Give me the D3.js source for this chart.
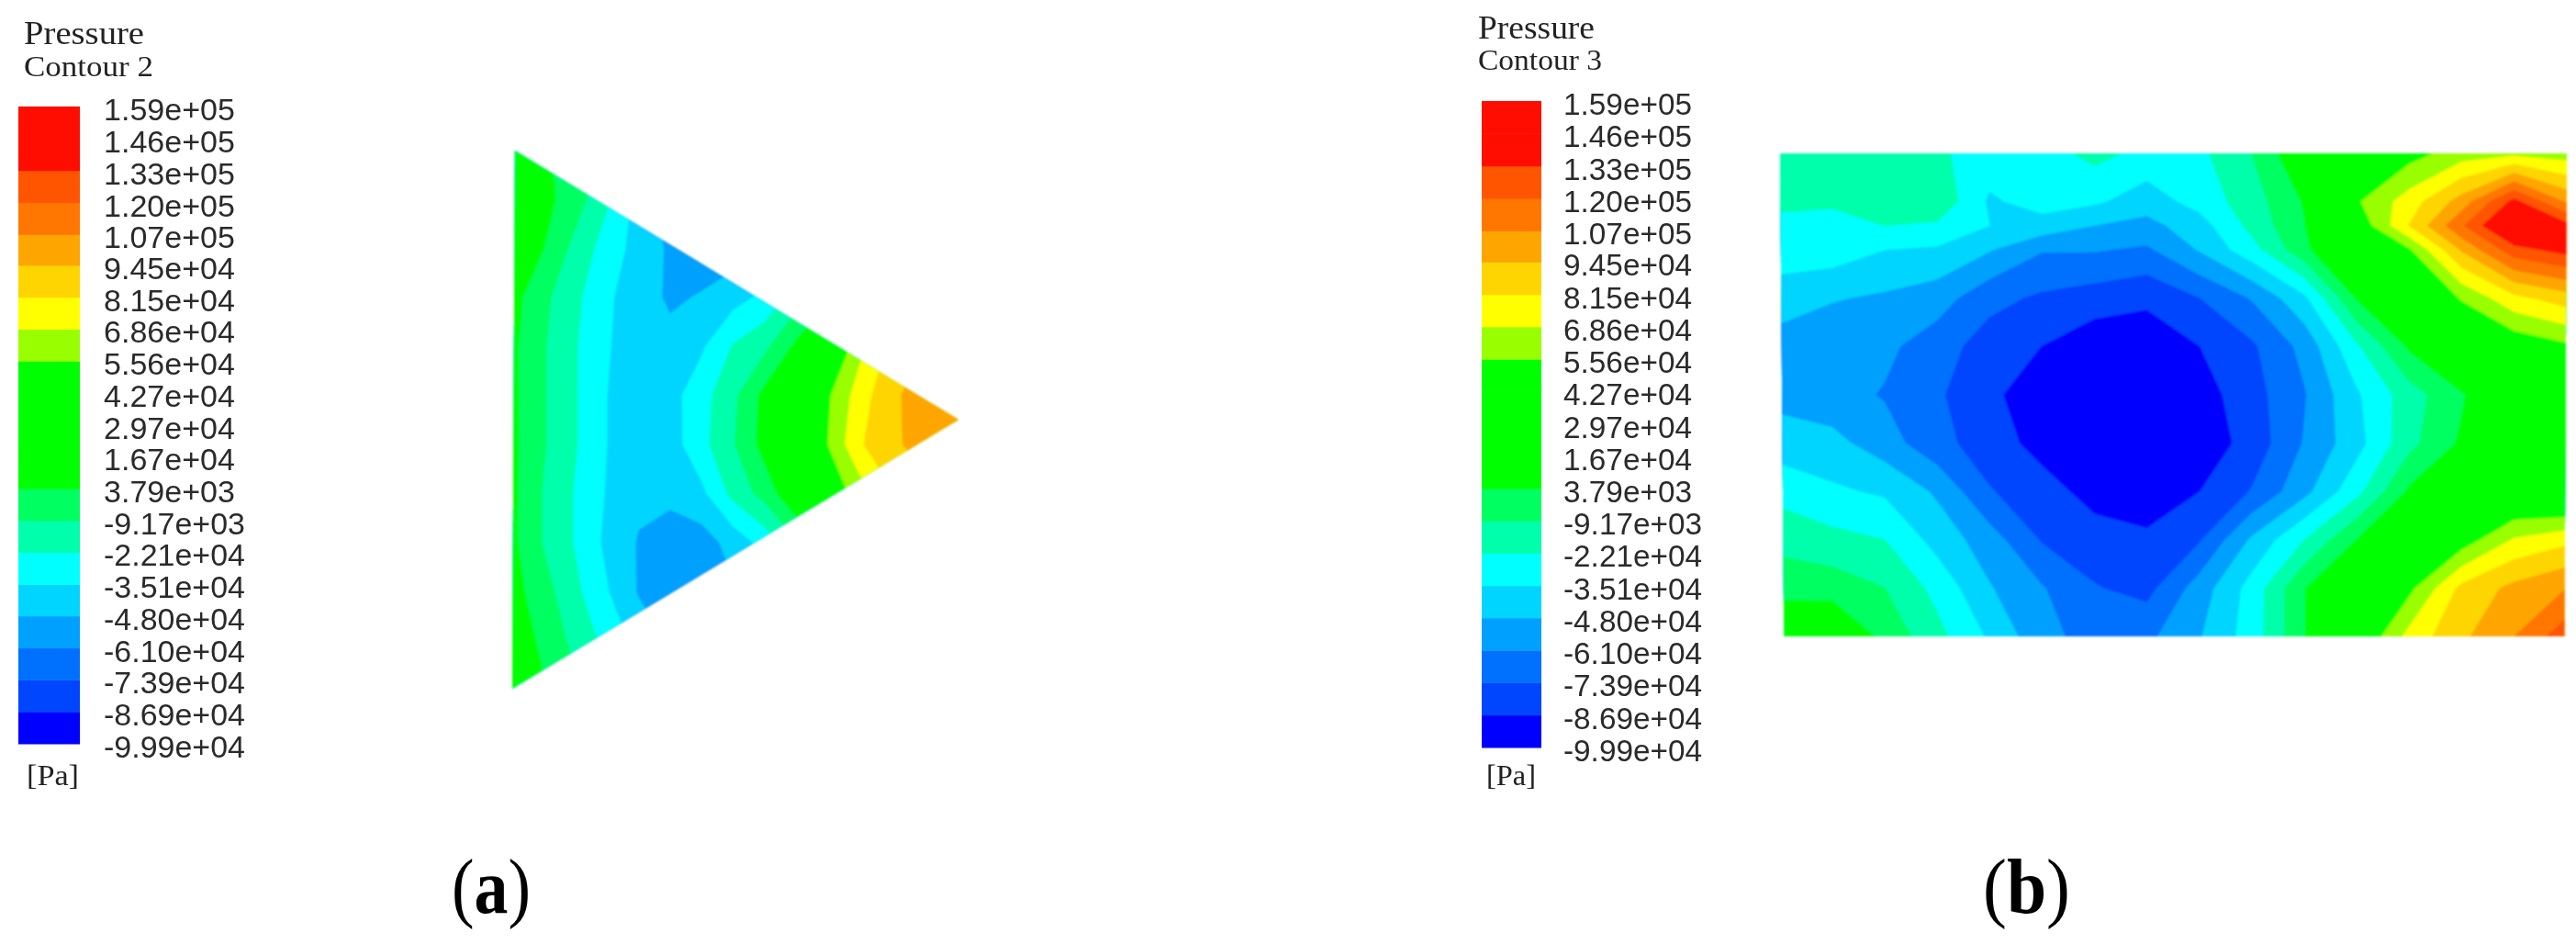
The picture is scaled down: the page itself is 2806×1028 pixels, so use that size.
<!DOCTYPE html>
<html><head><meta charset="utf-8">
<script src="https://cdn.jsdelivr.net/npm/d3@7/dist/d3.min.js"></script>
<style>html,body{margin:0;padding:0;background:#fff;overflow:hidden}svg{display:block}</style>
</head><body><svg id="c" width="2806" height="1028"></svg>
<script>
const tickLabels = ["1.59e+05","1.46e+05","1.33e+05","1.20e+05","1.07e+05","9.45e+04","8.15e+04","6.86e+04","5.56e+04","4.27e+04","2.97e+04","1.67e+04","3.79e+03","-9.17e+03","-2.21e+04","-3.51e+04","-4.80e+04","-6.10e+04","-7.39e+04","-8.69e+04","-9.99e+04"];
const bandColors = ["#0000ff","#0044ff","#0070ff","#00a0ff","#00d5ff","#00ffff","#00ffaa","#00ff60","#00ff00","#00ff00","#00ff00","#00ff00","#99ff00","#ffff00","#ffd500","#ffa500","#ff7700","#ff5500","#ff1100","#ff1100"];
const panelTitles = ["Pressure","Pressure"];
const panelSubtitles = ["Contour 2","Contour 3"];
const unitLabel = "[Pa]";
const captions = ["a","b"];

// Pressure in kPa, on a sampling grid
const triangleColumns = 15;
const triangleRowStations = [0,1,2,3,4,5,6,7,8,9,10,11];
const trianglePressure = [
 10,5,0,-15,-30,-40,-45,-45,-45,-40,-30,-10,20,50,70,
 15,8,-3,-20,-40,-55,-55,-55,-50,-40,-25,-5,20,50,70,
 12,4,-13,-28,-40,-50,-55,-55,-50,-40,-25,-5,25,55,75,
 9,-6,-19,-33,-42,-50,-47,-40,-32,-15,0,20,45,70,85,
 7,-8,-21,-34,-42,-44,-37,-21,-12,7,35,65,85,95,100,
 7,-8,-21,-35,-42,-40,-27,-12,8,30,54,75,92,100,104,
 7,-8,-21,-35,-42,-41,-26,-10,9,30,56,80,92,99,104,
 7,-10,-23,-36,-45,-44,-38,-18,-4,17,45,62,80,90,95,
 7,-10,-23,-38,-49,-56,-54,-43,-30,-10,15,40,60,75,85,
 9,-4,-19,-34,-49,-56,-60,-50,-35,-15,5,25,45,60,70,
 12,1,-13,-26,-40,-50,-55,-50,-35,-15,5,25,45,60,70,
 15,5,-5,-20,-35,-45,-50,-45,-35,-15,5,25,45,60,70
];
const rectColumns = 16;
const rectRowStations = [0,1,1.5,2,3,4,5,6,7,8,9,10];
const rectPressure = [
 -15,-15,-14,-20,-28,-28,-18,-26,-25,-9,17,30,50,62,65,62,
 -17,-20,-12,-12,-37,-30,-33,-42,-30,-15,5,54,75,100,137,105,
 -28,-27,-22,-24,-35,-40,-48,-52,-41,-18,3,45,82,118,156,137,
 -30,-28,-35,-37,-47,-60,-60,-63,-47,-27,0,30,54,96,128,138,
 -40,-47,-50,-55,-70,-76,-80,-84,-74,-60,-38,5,35,57,78,88,
 -55,-57,-58,-68,-80,-87,-96,-96,-87,-76,-57,-24,6,35,45,53,
 -52,-56,-62,-72,-84,-95,-99,-99,-93,-79,-62,-37,-15,2,25,35,
 -42,-44,-55,-70,-80,-92,-99,-99,-95,-82,-60,-40,-13,6,28,30,
 -26,-33,-37,-50,-73,-81,-92,-96,-87,-73,-52,-26,6,25,35,30,
 -14,-18,-22,-40,-55,-75,-81,-84,-75,-46,-22,4,28,48,70,78,
 0,-2,-9,-26,-47,-60,-73,-78,-55,-30,3,30,52,85,98,107,
 15,20,0,-18,-37,-57,-66,-64,-49,-29,3,40,73,92,107,128
];

const svg = d3.select("#c");
const defs = svg.append("defs");
const soft = defs.append("filter").attr("id","soft").attr("x","-5%").attr("y","-5%").attr("width","110%").attr("height","110%");
soft.append("feGaussianBlur").attr("stdDeviation",1.3);
const softText = defs.append("filter").attr("id","softText").attr("x","-5%").attr("y","-10%").attr("width","110%").attr("height","120%");
softText.append("feGaussianBlur").attr("stdDeviation",0.6);

const thresholds = tickLabels.map(Number).map(v=>v/1000).reverse();

function legend(o){
  const g = svg.append("g").attr("filter","url(#softText)");
  const y = d3.scaleLinear().domain([thresholds[0],thresholds[20]]).range([o.barBottom,o.barTop]);
  g.selectAll("rect").data(bandColors).join("rect")
    .attr("x",o.barX).attr("width",o.barW)
    .attr("y",(d,i)=>y(thresholds[i+1]))
    .attr("height",(d,i)=>y(thresholds[i])-y(thresholds[i+1])+0.5)
    .attr("fill",d=>d);
  g.selectAll("text.tick").data(tickLabels).join("text").attr("class","tick")
    .attr("x",o.labelX).attr("y",d=>y(+d/1000)+o.labelDy)
    .attr("font-family","'Liberation Sans',Arial,sans-serif").attr("font-size",33)
    .attr("fill","#2a2a2a")
    .attr("textLength",d=>d[0]==="-"?o.labelW+11:o.labelW).attr("lengthAdjust","spacingAndGlyphs")
    .text(d=>d);
  const serif="'Liberation Serif','Times New Roman',serif";
  g.append("text").attr("x",o.titleX).attr("y",o.titleY).attr("font-family",serif).attr("font-size",36)
    .attr("fill","#222").attr("textLength",o.titleW).attr("lengthAdjust","spacingAndGlyphs").text(o.title);
  g.append("text").attr("x",o.titleX).attr("y",o.subY).attr("font-family",serif).attr("font-size",32)
    .attr("fill","#222").attr("textLength",o.subW).attr("lengthAdjust","spacingAndGlyphs").text(o.sub);
  g.append("text").attr("x",o.unitX).attr("y",o.unitY).attr("font-family",serif).attr("font-size",32)
    .attr("fill","#222").attr("textLength",o.unitW).attr("lengthAdjust","spacingAndGlyphs").text(unitLabel);
}

function field(o){
  const rows = o.values.length/o.cols;
  const x = d3.scaleLinear().domain([0.5,o.cols-0.5]).range(o.xRange);
  const station = d3.scaleLinear().domain([o.stations[0],o.stations[rows-1]]).range(o.yRange);
  const y = d3.scaleLinear().domain(d3.range(rows).map(i=>i+0.5)).range(o.stations.map(station));
  const path = d3.geoPath(d3.geoTransform({point(a,b){this.stream.point(x(a),y(b));}}));
  const contours = d3.contours().size([o.cols,rows]).thresholds(thresholds.slice(0,20))(o.values);
  const outline = o.outline.map(p=>[o.bx(p[0]),o.by(p[1])]);
  const id = o.id;
  defs.append("clipPath").attr("id",id).append("path").attr("d",d3.line()(outline)+"Z");
  const g = svg.append("g").attr("filter","url(#soft)").append("g").attr("clip-path",`url(#${id})`);
  g.selectAll("path").data(contours).join("path")
    .attr("d",path).attr("fill",(d,i)=>bandColors[i]).attr("stroke",(d,i)=>bandColors[i]).attr("stroke-width",0.4);
}

legend({barX:20,barW:67,barTop:116,barBottom:810,labelX:113,labelW:143,labelDy:15,titleX:26,titleY:48,titleW:131,subY:83,subW:141,unitX:29,unitY:855,unitW:57,title:panelTitles[0],sub:panelSubtitles[0]});
legend({barX:1614,barW:65,barTop:110,barBottom:814,labelX:1703,labelW:140,labelDy:15,titleX:1610,titleY:42,titleW:127,subY:76,subW:135,unitX:1619,unitY:855,unitW:54,title:panelTitles[1],sub:panelSubtitles[1]});

const triX = d3.scaleLinear().domain([0,1]).range([558,1044]);
const triY = d3.scaleLinear().domain([0,1]).range([164,750]);
field({id:"tri",cols:triangleColumns,values:trianglePressure,stations:triangleRowStations,xRange:[557.6,1040],yRange:[163.7,750.7],
  outline:[[0.006,0],[1,0.5],[0,1]],bx:triX,by:triY});
const rectX = d3.scaleLinear().domain([0,1]).range([1939,2796]);
const rectY = d3.scaleLinear().domain([0,1]).range([167,693]);
field({id:"rct",cols:rectColumns,values:rectPressure,stations:rectRowStations,xRange:[1938.6,2795.7],yRange:[166.8,693],
  outline:[[0,0],[1,0],[0.997,1],[0.005,1]],bx:rectX,by:rectY});

const capSerif="'Liberation Serif','Times New Roman',serif";
[{x:492,w:86},{x:2160,w:95}].forEach((c,i)=>{
  const t = svg.append("text").attr("x",c.x).attr("y",994).attr("font-family",capSerif).attr("font-size",84)
    .attr("fill","#000").attr("textLength",c.w).attr("lengthAdjust","spacingAndGlyphs");
  t.append("tspan").text("(");
  t.append("tspan").attr("font-weight","bold").text(captions[i]);
  t.append("tspan").text(")");
});
</script></body></html>
